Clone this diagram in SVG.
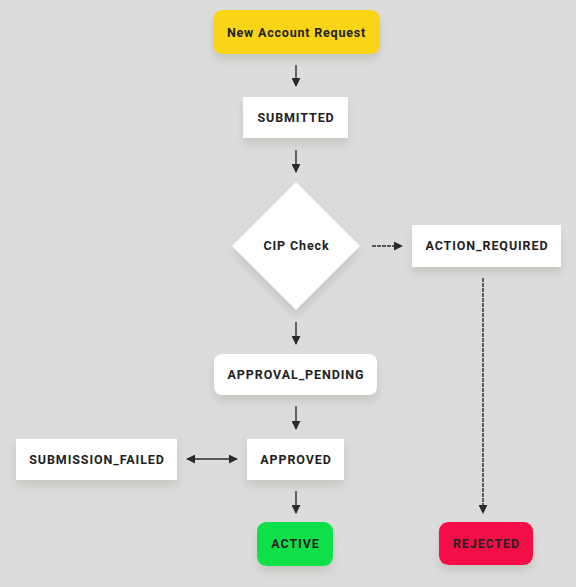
<svg xmlns="http://www.w3.org/2000/svg" width="576" height="587" viewBox="0 0 576 587">
<defs>
<filter id="sh" x="-20%" y="-30%" width="140%" height="180%">
<feDropShadow dx="0" dy="6" stdDeviation="4" flood-color="#b8b8b0" flood-opacity="0.6"/>
</filter>
<marker id="ah" viewBox="0 0 10 10" refX="9" refY="5" markerWidth="9" markerHeight="9" markerUnits="userSpaceOnUse" orient="auto-start-reverse">
<path d="M0,0 L10,5 L0,10 z" fill="#2b2b2b"/>
</marker>
<style>
text{font-family:Roboto,"Liberation Sans",sans-serif;font-weight:700;font-size:12.5px;fill:#222222;text-anchor:middle;dominant-baseline:central;letter-spacing:0.9px}
.w{fill:#ffffff}
.c{stroke:#2b2b2b;stroke-width:1.4;fill:none}
.d{stroke-dasharray:4 1}
</style>
</defs>
<rect width="576" height="587" fill="#dcdcdc"/>
<g id="connectors">
<line class="c" x1="296" y1="65" x2="296" y2="86" marker-end="url(#ah)"/>
<line class="c" x1="296" y1="150" x2="296" y2="172" marker-end="url(#ah)"/>
<line class="c d" x1="372" y1="246" x2="402" y2="246" marker-end="url(#ah)"/>
<line class="c d" x1="483" y1="278" x2="483" y2="513" marker-end="url(#ah)"/>
<line class="c" x1="296" y1="322" x2="296" y2="344" marker-end="url(#ah)"/>
<line class="c" x1="296" y1="406" x2="296" y2="429" marker-end="url(#ah)"/>
<line class="c" x1="187" y1="459" x2="237" y2="459" marker-start="url(#ah)" marker-end="url(#ah)"/>
<line class="c" x1="296" y1="491" x2="296" y2="513" marker-end="url(#ah)"/>
</g>
<g id="new-account-request">
<rect x="213" y="10" width="167" height="44" rx="9" fill="#fad414" filter="url(#sh)"/>
<text x="296.5" y="32.5" style="letter-spacing:0.8px">New Account Request</text>
</g>
<g id="submitted">
<rect class="w" x="243" y="97" width="105" height="41" filter="url(#sh)"/>
<text x="296" y="117">SUBMITTED</text>
</g>
<g id="cip-check">
<polygon class="w" points="296,182 360,246 296,310 232,246" filter="url(#sh)"/>
<text x="296.5" y="245.5">CIP Check</text>
</g>
<g id="action-required">
<rect class="w" x="412" y="225" width="149" height="42" filter="url(#sh)"/>
<text x="487" y="245.5">ACTION_REQUIRED</text>
</g>
<g id="approval-pending">
<rect class="w" x="214" y="354" width="163" height="41" rx="8" filter="url(#sh)"/>
<text x="296" y="374.5">APPROVAL_PENDING</text>
</g>
<g id="submission-failed">
<rect class="w" x="16" y="439" width="161" height="41" filter="url(#sh)"/>
<text x="97" y="459.5">SUBMISSION_FAILED</text>
</g>
<g id="approved">
<rect class="w" x="247" y="439" width="97" height="41" filter="url(#sh)"/>
<text x="296" y="459.5">APPROVED</text>
</g>
<g id="active">
<rect x="257" y="522" width="76" height="44" rx="9" fill="#0ce048" filter="url(#sh)"/>
<text x="295.5" y="543.5">ACTIVE</text>
</g>
<g id="rejected">
<rect x="439" y="522" width="94" height="43" rx="9" fill="#f50a47" filter="url(#sh)"/>
<text x="486.5" y="543.5">REJECTED</text>
</g>
</svg>
